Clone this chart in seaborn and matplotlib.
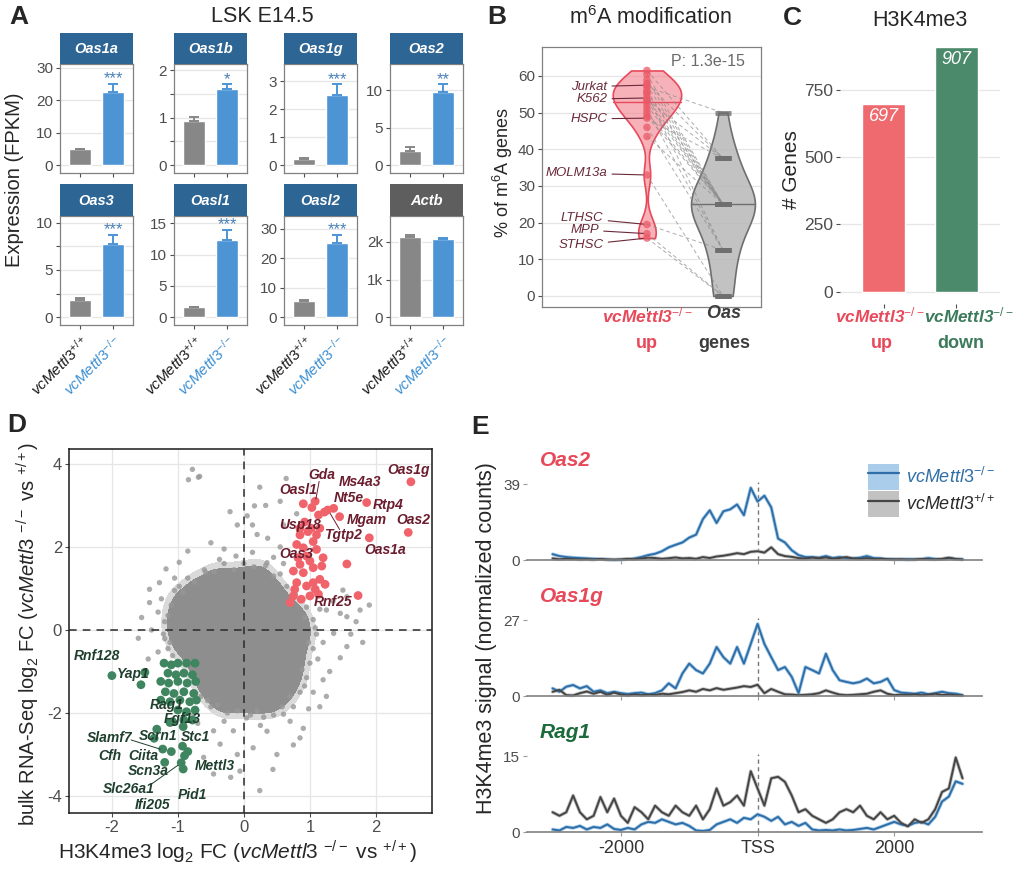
import numpy as np
import pandas as pd
import matplotlib
matplotlib.use("Agg")
import matplotlib.pyplot as plt
from matplotlib.patches import Patch
from matplotlib.lines import Line2D
import seaborn as sns

sns.set_theme(style="white")
plt.rcParams["font.family"] = ["Liberation Sans", "DejaVu Sans"]
plt.rcParams["mathtext.fontset"] = "custom"
plt.rcParams["mathtext.rm"] = "Liberation Sans"
plt.rcParams["mathtext.it"] = "Liberation Sans:italic"
plt.rcParams["mathtext.bf"] = "Liberation Sans:bold"
plt.rcParams["mathtext.bfit"] = "Liberation Sans:italic:bold"
plt.rcParams["axes.unicode_minus"] = False

# ---------------- data ----------------
# panel A: expression (FPKM), wild type vs knockout
a_genes = ["Oas1a", "Oas1b", "Oas1g", "Oas2", "Oas3", "Oasl1", "Oasl2", "Actb"]
a_geno = ["wt", "ko"]
a_wt = [4.8, 0.93, 0.21, 1.9, 1.8, 1.6, 5.4, 2125]
a_wt_err = [0.2, 0.09, 0.04, 0.55, 0.25, 0.05, 0.4, 60]
a_ko = [22.4, 1.61, 2.52, 9.8, 7.8, 12.4, 25.2, 2080]
a_ko_err = [2.6, 0.09, 0.37, 1.0, 0.95, 1.6, 2.8, 20]
a_stars = ["***", "*", "***", "**", "***", "***", "***", ""]
a_ymax = [31.2, 2.13, 3.61, 13.5, 10.74, 16.2, 34.4, 2693]
a_ticks = [[0, 10, 20, 30], [0, 1, 2], [0, 1, 2, 3], [0, 5, 10],
           [0, 5, 10], [0, 5, 10, 15], [0, 10, 20, 30], [0, 1000, 2000]]
a_minor = [[], [0.5, 1.5], [], [], [2.5, 7.5], [], [], []]

# panel B: % of m6A genes per dataset (paired)
b_up = [61.5, 60.5, 59, 58, 57.5, 57, 56, 55.5, 55, 54, 53.5, 53, 52, 51,
        50, 49, 48.5, 46, 43.5, 33, 19.5, 17, 15.8]
b_oas = [37.5, 25, 25, 37.5, 25, 50, 25, 25, 12.5, 25, 37.5, 25, 25, 12.5,
         25, 25, 37.5, 12.5, 25, 0, 12.5, 0, 0]
b_cells = ["Jurkat", "K562", "HSPC", "MOLM13a", "LTHSC", "MPP", "STHSC"]
b_cell_pct = [57.5, 54, 48.5, 33, 19.5, 17, 15.8]
b_pval = "P: 1.3e-15"

# panel C: number of genes
c_groups = ["up", "down"]
c_counts = [697, 907]

# panel D: log2 fold changes (bulk RNA-Seq vs H3K4me3)
d_gray_core = [
    (-0.36, 1.22), (-0.04, 1.24), (0.24, 1.33),
    (-0.66, 1.00), (-0.41, 1.08), (-0.09, 1.03), (0.19, 1.08), (0.40, 1.00),
    (-0.88, 0.72), (-0.64, 0.80), (-0.34, 0.78), (-0.06, 0.82), (0.26, 0.77), (0.50, 0.72),
    (-0.96, 0.46), (-0.74, 0.50), (-0.44, 0.47), (-0.16, 0.53), (0.14, 0.49), (0.46, 0.51), (0.70, 0.45),
    (-0.98, 0.18), (-0.77, 0.22), (-0.51, 0.18), (-0.19, 0.21), (0.11, 0.17), (0.41, 0.22), (0.66, 0.18), (0.82, 0.20),
    (-0.98, -0.10), (-0.78, -0.08), (-0.48, -0.12), (-0.21, -0.09), (0.12, -0.11), (0.39, -0.08), (0.68, -0.12), (0.83, -0.08),
    (-0.90, -0.40), (-0.69, -0.38), (-0.39, -0.42), (-0.11, -0.39), (0.21, -0.41), (0.49, -0.38), (0.76, -0.40),
    (-0.70, -0.70), (-0.46, -0.68), (-0.14, -0.72), (0.16, -0.69), (0.44, -0.71), (0.73, -0.66),
    (-0.62, -1.00), (-0.41, -0.98), (-0.09, -1.02), (0.21, -0.99), (0.49, -1.01), (0.72, -0.94),
    (-0.55, -1.30), (-0.34, -1.28), (-0.06, -1.32), (0.26, -1.29), (0.52, -1.27), (0.66, -1.18),
    (-0.42, -1.55), (-0.21, -1.60), (0.11, -1.58), (0.39, -1.58), (0.55, -1.50),
    (-0.27, -1.72), (0.06, -1.74), (0.34, -1.72),
]
d_gray_out = [
    (-0.78, 3.87), (-0.84, 3.62), (-0.69, 3.68), (-0.67, 3.70), (0.24, 3.44), (0.64, 3.65),
    (0.13, 2.53), (-0.21, 2.85), (-0.10, 2.53), (0.16, 2.99), (0.33, 3.00), (0.60, 2.53),
    (0.36, 2.21), (0.55, 2.00), (-0.85, 1.90), (-0.98, 1.63), (-1.18, 1.47), (-1.43, 0.98),
    (-1.43, 0.66), (-1.28, 1.14), (-1.05, 1.25), (-0.58, 1.39), (-0.37, 1.70), (-0.12, 1.78),
    (0.13, 1.87), (0.33, 1.55), (-1.30, 0.43), (-1.40, 0.00), (-1.30, -0.53), (-1.20, -0.21),
    (1.56, -0.40), (1.36, -0.08), (1.46, 0.40), (1.25, 0.48), (1.56, 0.32), (1.46, -0.67),
    (1.30, -1.00), (1.15, -1.85), (0.90, -2.37), (0.75, -2.77), (0.35, -2.44), (0.14, -2.84),
    (0.44, -3.36), (0.24, -3.87), (-0.06, -3.40), (-0.20, -3.55), (-0.46, -3.47), (-0.61, -3.07),
    (-0.36, -2.75), (-0.16, -2.43), (0.04, -2.12), (0.60, -2.03), (1.56, 0.80), (1.76, 0.48),
    (1.50, 0.96), (-0.46, -2.43), (-0.76, -2.03), (1.05, -1.50), (1.20, -1.20), (0.98, -1.90),
    (-0.30, -2.20), (0.70, -2.20), (1.35, 0.70), (0.20, 2.30), (-0.50, 2.10), (-0.30, 1.95),
    (0.45, 1.75), (1.70, 0.20), (1.90, 0.60), (1.62, -0.10), (-1.55, 0.30), (-1.60, -0.20),
    (-1.45, -0.70), (0.50, -3.00), (-0.10, -3.00), (0.30, -2.10), (0.85, -2.60), (1.25, -1.60),
    (1.80, -0.30), (0.80, 2.80), (0.55, 3.10), (0.05, 2.75),
    (-1.25, 0.75), (-1.20, 0.20), (-1.22, -0.10), (-1.15, -0.45), (-1.05, 0.95), (-0.85, 1.25),
    (-0.60, 1.45), (-0.30, 1.60), (0.00, 1.60), (0.35, 1.62), (0.55, 1.35), (0.65, 1.05),
    (0.95, 0.55), (1.05, 0.25), (1.10, -0.10), (1.05, -0.45), (1.00, -0.80), (0.95, -1.15),
    (0.85, -1.50), (0.75, -1.85), (0.45, -2.05), (0.10, -2.05), (-0.25, -2.00), (-0.50, -1.85),
    (-0.65, -1.60), (1.15, 0.50), (1.20, -0.30), (-0.70, -2.25), (0.25, -2.30), (0.60, 1.60),
    (-1.10, 0.60), (-1.12, -0.30), (-0.98, 1.05), (0.92, 0.30), (0.98, -0.30), (0.88, -0.95),
    (0.70, -1.60), (0.20, -1.95), (-0.40, -1.80), (0.45, 1.30), (-0.15, 1.45), (-0.75, 1.15),
    (-1.15, 0.35), (-1.08, -0.62), (-0.92, 0.90), (0.78, 0.85), (1.08, 0.05), (1.12, -0.70),
    (0.92, -1.35), (0.58, -1.85), (-0.10, -1.95), (-0.55, -1.70), (-0.45, 1.40), (0.15, 1.52),
]
d_red = [
    (2.53, 3.57), (2.49, 2.35), (1.90, 2.22), (1.86, 3.07), (1.45, 2.73), (1.36, 2.93),
    (1.27, 2.89), (1.22, 2.84), (1.08, 3.10), (0.90, 3.04), (1.03, 2.95), (1.56, 1.59),
    (1.73, 0.83), (1.23, 1.10), (0.92, 2.60), (1.02, 2.45), (1.10, 2.29), (0.85, 2.29),
    (0.80, 2.06), (0.90, 1.98), (1.10, 1.94), (1.20, 1.74), (1.00, 1.66), (0.85, 1.58),
    (0.75, 1.42), (0.90, 1.38), (1.05, 1.50), (1.18, 1.54), (0.80, 1.14), (0.95, 1.06),
    (1.08, 0.98), (0.75, 0.82), (0.87, 0.74), (1.00, 0.82), (1.13, 0.86), (0.77, 0.98),
    (1.05, 1.14), (1.15, 1.22), (0.70, 0.66), (0.82, 1.74), (0.95, 1.78), (1.05, 2.13),
    (0.97, 2.37), (0.85, 2.45), (1.15, 2.45), (1.13, 2.77),
]
d_green = [
    (-2.00, -1.10), (-1.50, -1.02), (-1.56, -1.32),
    (-1.21, -0.80), (-1.10, -0.84), (-1.00, -0.80), (-0.87, -0.80), (-0.74, -0.80),
    (-1.15, -1.04), (-1.03, -1.08), (-0.91, -1.04), (-0.78, -1.08),
    (-1.26, -1.24), (-1.14, -1.28), (-1.00, -1.24), (-0.86, -1.28), (-0.73, -1.24),
    (-1.19, -1.49), (-1.06, -1.53), (-0.91, -1.49), (-0.76, -1.53),
    (-1.26, -1.69), (-1.12, -1.73), (-0.97, -1.69), (-0.82, -1.73), (-0.72, -1.69),
    (-1.00, -1.93), (-0.87, -1.97), (-0.74, -1.93), (-0.91, -2.17), (-0.78, -2.17),
    (-1.08, -2.21), (-0.92, -2.33), (-1.32, -2.39), (-1.36, -2.61), (-1.23, -2.87),
    (-1.10, -2.93), (-1.20, -3.19), (-0.95, -3.20), (-0.92, -3.35), (-0.85, -2.93),
    (-0.90, -3.03), (-0.93, -2.80), (-1.12, -2.23),
]
d_up_genes = ["Oas1g", "Gda", "Ms4a3", "Oasl1", "Nt5e", "Rtp4", "Mgam", "Oas2",
              "Usp18", "Tgtp2", "Oas1a", "Oas3", "Rnf25"]
d_down_genes = ["Rnf128", "Yap1", "Rag1", "Fgf13", "Slamf7", "Scrn1", "Stc1", "Cfh",
                "Ciita", "Mettl3", "Scn3a", "Slc26a1", "Pid1", "Ifi205"]

# panel E: H3K4me3 signal around TSS (100 bp bins)
e_pos = np.arange(-3000, 3001, 100)
e_genes = ["Oas2", "Oas1g", "Rag1"]
e_ymax = [39, 27, 15]
e_oas2_ko = [3.0, 2.0, 1.5, 1.2, 1.0, 0.8, 0.6, 0.5, 0.2, 0.1, 0.2, 0.4, 0.8, 1.5, 2.5, 3.2,
             4.5, 6.5, 7.8, 9.0, 11.5, 13.0, 21.0, 25.5, 19.0, 25.0, 26.0, 28.5, 23.0, 37.0,
             30.0, 33.0, 27.0, 11.0, 9.0, 5.0, 2.5, 1.5, 1.5, 1.2, 2.0, 1.0, 1.5, 1.0, 0.8,
             1.2, 2.0, 1.0, 0.8, 0.5, 0.4, 0.3, 0.4, 0.3, 0.5, 1.0, 0.5, 0.4, 1.0, 0.6, 0.3]
e_oas2_wt = [0.8, 0.4, 0.6, 0.5, 0.3, 0.4, 0.2, 0.5, 0.3, 0.2, 0.3, 0.6, 0.4, 0.8, 1.2, 1.0,
             0.6, 0.9, 1.3, 0.8, 1.0, 0.6, 1.5, 1.0, 1.8, 2.2, 2.8, 3.5, 3.0, 4.2, 4.5, 3.8,
             6.5, 3.0, 2.0, 1.6, 1.0, 0.8, 1.2, 0.9, 1.3, 0.7, 1.0, 1.5, 0.8, 0.6, 1.0, 0.5,
             0.7, 0.4, 0.3, 0.4, 0.2, 0.3, 0.5, 0.4, 0.3, 0.6, 1.2, 0.5, 0.3]
e_oas1g_ko = [2.7, 1.5, 3.3, 3.9, 2.7, 3.5, 1.5, 2.0, 1.0, 1.5, 1.0, 0.7, 1.0, 1.2, 0.6, 1.0,
              2.0, 4.5, 2.7, 8.0, 11.5, 9.2, 8.0, 11.5, 17.4, 13.8, 11.5, 17.4, 11.5, 18.5,
              25.6, 18.5, 13.8, 9.2, 10.3, 6.8, 1.0, 10.3, 9.2, 8.0, 15.0, 9.2, 5.6, 5.0, 4.5,
              5.0, 6.2, 4.5, 5.0, 6.2, 2.1, 1.2, 1.0, 0.8, 1.2, 0.6, 1.0, 1.5, 1.0, 0.8, 0.3]
e_oas1g_wt = [1.5, 2.2, 0.3, 0.2, 1.0, 1.6, 0.8, 1.5, 0.4, 1.2, 0.5, 0.2, 0.6, 0.3, 0.5, 0.4,
              0.8, 0.6, 1.0, 1.4, 2.0, 1.5, 2.5, 2.0, 2.8, 2.2, 2.6, 3.0, 3.5, 3.2, 4.0, 1.0,
              2.5, 1.5, 0.6, 0.5, 0.3, 0.4, 0.6, 1.0, 2.0, 1.2, 0.5, 0.3, 0.4, 0.6, 0.8, 1.5,
              2.0, 0.8, 0.3, 0.5, 0.4, 0.6, 0.3, 0.5, 0.8, 0.4, 0.5, 0.3, 0.2]
e_rag1_ko = [0.5, 0.3, 1.0, 0.8, 1.2, 0.5, 1.0, 0.8, 1.5, 0.6, 0.4, 0.8, 0.5, 1.5, 2.0, 1.8,
             2.5, 2.0, 1.5, 1.8, 1.2, 0.3, 0.2, 0.4, 1.5, 2.0, 2.5, 1.8, 2.8, 2.5, 3.5, 3.0,
             2.2, 3.0, 1.5, 2.0, 1.2, 1.8, 0.5, 0.3, 0.4, 0.3, 0.5, 0.3, 0.4, 0.6, 0.8, 0.5,
             1.0, 1.5, 2.0, 1.5, 1.2, 1.8, 2.0, 1.5, 3.0, 6.0, 7.0, 10.0, 9.5]
e_rag1_wt = [3.9, 3.2, 3.9, 7.2, 3.9, 2.5, 3.2, 6.9, 3.9, 6.6, 3.2, 1.8, 4.9, 3.9, 2.5, 5.2,
             3.9, 3.2, 5.2, 3.9, 3.2, 5.2, 2.5, 4.5, 8.6, 5.2, 5.9, 7.2, 5.2, 12.0, 8.6, 5.2,
             10.6, 10.9, 9.9, 7.2, 3.9, 4.5, 3.2, 2.5, 1.8, 2.5, 3.9, 4.5, 3.9, 5.2, 3.2, 2.5,
             3.9, 2.5, 3.2, 1.8, 1.1, 2.5, 1.8, 2.5, 4.5, 7.9, 8.6, 14.7, 10.6]
e_ko = [e_oas2_ko, e_oas1g_ko, e_rag1_ko]
e_wt = [e_oas2_wt, e_oas1g_wt, e_rag1_wt]

# ---------------- colours ----------------
STRIP_BLUE = "#2d6595"
STRIP_GRAY = "#5e5e5e"
BAR_GRAY = "#878787"
BAR_BLUE = "#4d94d5"
STAR_BLUE = "#4a80b8"
LAB_BLUE = "#3d8fd1"
RED = "#e8495a"
GREEN = "#3b7a5a"
TXT_GRAY = "#4d4d4d"
GRID = "#e6e6e6"
CLOUD = "#8e8e8e"

W, H = 1020, 873
fig = plt.figure(figsize=(W / 100, H / 100), dpi=100)


def px_axes(x0, y0, x1, y1):
    return fig.add_axes([x0 / W, 1 - y1 / H, (x1 - x0) / W, (y1 - y0) / H])


def fig_text(x, y, s, **kw):
    return fig.text(x / W, 1 - y / H, s, **kw)


WT_LAB = r"$\mathit{vcMettl3}^{+/+}$"
KO_LAB = r"$\mathit{vcMettl3}^{-/-}$"
KO_BOLD = r"$\mathbfit{vcMettl3}^{-/-}$"

# ---------------- panel A ----------------
col_x = [60, 174, 284, 390]
rows = [(33, 64, 173), (184, 216, 325)]
for i, g in enumerate(a_genes):
    r, c = divmod(i, 4)
    hy, py0, py1 = rows[r]
    x0 = col_x[c]
    ax = px_axes(x0, py0, x0 + 73, py1)
    hx = px_axes(x0, hy, x0 + 73, py0)
    hx.set_facecolor(STRIP_GRAY if g == "Actb" else STRIP_BLUE)
    hx.set_xticks([])
    hx.set_yticks([])
    for s in hx.spines.values():
        s.set_visible(False)
    hx.text(0.5, 0.47, g, transform=hx.transAxes, ha="center", va="center",
            color="white", fontsize=10.5, fontweight="bold", style="italic")

    df = pd.DataFrame({"geno": a_geno, "fpkm": [a_wt[i], a_ko[i]]})
    sns.barplot(data=df, x="geno", y="fpkm", hue="geno", palette=[BAR_GRAY, BAR_BLUE],
                width=0.67, saturation=1, legend=False, errorbar=None, ax=ax)
    for j, (m, e, col) in enumerate([(a_wt[i], a_wt_err[i], BAR_GRAY),
                                     (a_ko[i], a_ko_err[i], BAR_BLUE)]):
        ax.errorbar(j, m, yerr=[[0], [e]], fmt="none", ecolor=col, elinewidth=1.4,
                    capsize=3.5, capthick=1.4, zorder=3)
    top = a_ymax[i]
    bot = -0.079 * top
    ax.set_ylim(bot, top)
    ax.set_xlim(-0.6, 1.6)
    ppu = 109 / (top - bot)
    if a_stars[i]:
        ax.text(1, a_ko[i] + a_ko_err[i] + 5 / ppu, a_stars[i], ha="center", va="center",
                color=STAR_BLUE, fontsize=12)
    ax.set_yticks(a_ticks[i])
    ax.set_yticks(a_minor[i], minor=True)
    if g == "Actb":
        ax.set_yticklabels(["0", "1k", "2k"])
    ax.grid(axis="y", which="both", color=GRID, lw=0.9)
    ax.set_axisbelow(True)
    for s in ax.spines.values():
        s.set_color("#808080")
        s.set_linewidth(0.9)
    ax.tick_params(axis="both", which="both", length=3, width=0.8, color=TXT_GRAY,
                   labelsize=11, labelcolor=TXT_GRAY, pad=2, bottom=True, left=True)
    ax.set_xticks([0, 1])
    if r == 1:
        ax.set_xticklabels([WT_LAB, KO_LAB], rotation=45, ha="right",
                           rotation_mode="anchor", fontsize=11)
        ax.get_xticklabels()[0].set_color("#1a1a1a")
        ax.get_xticklabels()[1].set_color(LAB_BLUE)
    else:
        ax.set_xticklabels([])
    ax.set_xlabel("")
    ax.set_ylabel("")

fig_text(15, 180, "Expression (FPKM)", rotation=90, ha="center", va="center", fontsize=14.5)
fig_text(262, 17, "LSK E14.5", ha="center", va="center", fontsize=15.5)

# ---------------- panel B ----------------
axb = px_axes(542, 47, 761, 307)
n = len(b_up)
sns.violinplot(x=["up"] * n, y=b_up, order=["up", "oas"], color=RED, cut=0, inner=None,
               density_norm="width", width=0.9, bw_adjust=0.45, linewidth=1.2, ax=axb)
sns.violinplot(x=["oas"] * n, y=b_oas, order=["up", "oas"], color="#9a9a9a", cut=0,
               inner=None, density_norm="width", width=0.84, bw_adjust=1.0,
               linewidth=1.2, ax=axb)
vcols = [((0.95, 0.45, 0.50, 0.55), RED), ((0.72, 0.72, 0.72, 0.85), "#6e6e6e")]
for coll, (fc, ec) in zip(axb.collections[:2], vcols):
    coll.set_facecolor(fc)
    coll.set_edgecolor(ec)
    coll.set_linewidth(1.2)
# median line across each violin
for k, (coll, vals) in enumerate(zip(axb.collections[:2], [b_up, b_oas])):
    v = np.median(vals)
    verts = coll.get_paths()[0].vertices
    near = verts[np.abs(verts[:, 1] - v) < 1.0]
    if len(near):
        axb.plot([near[:, 0].min(), near[:, 0].max()], [v, v], color=vcols[k][1], lw=1.0)
for u, o in zip(b_up, b_oas):
    axb.plot([0, 1], [u, o], ls=(0, (4, 3)), color="#8a8a8a", lw=0.7, alpha=0.7, zorder=2)
sns.scatterplot(x=[0] * n, y=b_up, color="#ec5a68", s=30, alpha=0.75, edgecolor="none",
                ax=axb, zorder=4)
axb.scatter([1] * n, b_oas, marker="_", s=120, linewidths=3.5, c="#6f6f6f", alpha=0.8,
            zorder=4)
b_text_y = [57.1, 53.7, 48.3, 33.5, 21.2, 18.0, 13.9]
b_text_x = [-0.52, -0.52, -0.52, -0.52, -0.57, -0.63, -0.57]
for name, pv, tx, ty in zip(b_cells, b_cell_pct, b_text_x, b_text_y):
    axb.annotate(name, xy=(0, pv), xytext=(tx, ty), ha="right", va="center",
                 fontsize=9.5, style="italic", color="#6b2a3a",
                 arrowprops=dict(arrowstyle="-", color="#6b2a3a", lw=0.8,
                                 shrinkA=1, shrinkB=2))
axb.text(1.29, 63.9, b_pval, ha="right", va="center", fontsize=11.5, color="#6a6a6a")
axb.set_xlim(-1.38, 1.5)
axb.set_ylim(-3, 67.9)
axb.set_yticks([0, 10, 20, 30, 40, 50, 60])
axb.grid(axis="y", color=GRID, lw=0.9)
axb.set_axisbelow(True)
axb.set_xticks([0, 1])
axb.set_xticklabels([])
axb.set_xlabel("")
axb.set_ylabel("")
for s in axb.spines.values():
    s.set_color("#808080")
    s.set_linewidth(0.9)
axb.tick_params(axis="both", length=3, width=0.8, color=TXT_GRAY, labelsize=11,
                labelcolor=TXT_GRAY, pad=2, bottom=True, left=True)
fig_text(503, 172, "% of m$^6$A genes", rotation=90, ha="center", va="center", fontsize=13)
fig_text(650, 18, "m$^6$A modification", ha="center", va="center", fontsize=15.5)
fig_text(647, 315, KO_BOLD, ha="center", va="center", fontsize=12.5, color=RED)
fig_text(647, 344, "up", ha="center", va="center", fontsize=13, fontweight="bold", color=RED)
fig_text(724, 313, r"$\mathbfit{Oas}$", ha="center", va="center", fontsize=13,
         color="#3d3d3d")
fig_text(724, 344, "genes", ha="center", va="center", fontsize=13, fontweight="bold",
         color="#3d3d3d")

# ---------------- panel C ----------------
axc = px_axes(840, 35, 1000, 304)
sns.barplot(x=c_groups, y=c_counts, hue=c_groups, palette=["#ef6a6e", "#4b8a6b"],
            width=0.6, saturation=1, legend=False, errorbar=None, ax=axc)
axc.set_ylim(-45, 952)
axc.set_xlim(-0.6, 1.6)
for j, v in enumerate(c_counts):
    axc.text(j, v - 47, str(v), ha="center", va="center", color="white",
             fontsize=13, style="italic")
axc.set_yticks([0, 250, 500, 750])
axc.grid(axis="y", color=GRID, lw=0.9)
axc.set_axisbelow(True)
axc.set_xticks([0, 1])
axc.set_xticklabels([])
axc.set_xlabel("")
axc.set_ylabel("")
for s in axc.spines.values():
    s.set_visible(False)
axc.tick_params(axis="both", length=3, width=0.8, color=TXT_GRAY, labelsize=12.5,
                labelcolor=TXT_GRAY, pad=2, bottom=True, left=True)
fig_text(792, 170, "# Genes", rotation=90, ha="center", va="center", fontsize=15)
fig_text(920, 20, "H3K4me3", ha="center", va="center", fontsize=15.5)
fig_text(880, 315, KO_BOLD, ha="center", va="center", fontsize=12.3, color=RED)
fig_text(882, 344, "up", ha="center", va="center", fontsize=13, fontweight="bold",
         color=RED)
fig_text(969, 315, KO_BOLD, ha="center", va="center", fontsize=12.3, color=GREEN)
fig_text(961, 344, "down", ha="center", va="center", fontsize=13, fontweight="bold",
         color=GREEN)

# ---------------- panel D ----------------
axd = px_axes(69, 449, 432, 813)
core = np.array(d_gray_core)
out = np.array(d_gray_out)
red = np.array(d_red)
green = np.array(d_green)
# dense centre of the cloud as a filled density region (faint fringe + solid core)
sns.kdeplot(x=core[:, 0], y=core[:, 1], fill=True, levels=[0.025, 0.07, 1], bw_adjust=0.6,
            color=CLOUD, colors=["#dadada", CLOUD], ax=axd, zorder=1)
sns.scatterplot(x=core[:, 0], y=core[:, 1], color=CLOUD, s=14, edgecolor="none",
                ax=axd, zorder=2)
sns.scatterplot(x=out[:, 0], y=out[:, 1], color="#979797", s=15, edgecolor="none",
                alpha=0.8, ax=axd, zorder=2)
sns.scatterplot(x=red[:, 0], y=red[:, 1], color="#f0636b", s=40, edgecolor="none",
                ax=axd, zorder=3)
sns.scatterplot(x=green[:, 0], y=green[:, 1], color="#3f8560", s=40, edgecolor="none",
                ax=axd, zorder=3)
axd.axvline(0, color="#2a2a2a", lw=1.1, ls=(0, (5, 4)), zorder=4)
axd.axhline(0, color="#2a2a2a", lw=1.1, ls=(0, (5, 4)), zorder=4)
d_up_xy = [(2.49, 3.86), (1.18, 3.73), (1.76, 3.57), (0.82, 3.37), (1.59, 3.17),
           (2.19, 3.01), (1.86, 2.65), (2.57, 2.65), (0.85, 2.53), (1.50, 2.29),
           (2.14, 1.93), (0.80, 1.83), (1.35, 0.68)]
d_down_xy = [(-2.23, -0.63), (-1.68, -1.06), (-1.17, -1.81), (-0.94, -2.15),
             (-2.04, -2.61), (-1.30, -2.55), (-0.74, -2.58), (-2.03, -3.04),
             (-1.53, -3.04), (-0.44, -3.28), (-1.45, -3.39), (-1.75, -3.84),
             (-0.78, -3.98), (-1.38, -4.22)]
for name, (tx, ty) in zip(d_up_genes, d_up_xy):
    axd.text(tx, ty, name, ha="center", va="center", fontsize=10, fontweight="bold",
             style="italic", color="#6b1d2e", zorder=5)
for name, (tx, ty) in zip(d_down_genes, d_down_xy):
    axd.text(tx, ty, name, ha="center", va="center", fontsize=10, fontweight="bold",
             style="italic", color="#1f3f2e", zorder=5)
for (x1, y1, x2, y2, col) in [(1.14, 3.58, 1.09, 3.15, "#6b1d2e"),
                              (1.45, 2.42, 1.31, 2.80, "#6b1d2e"),
                              (-1.71, -2.65, -1.27, -2.87, "#1f3f2e"),
                              (-1.39, -3.70, -1.00, -3.26, "#1f3f2e")]:
    axd.plot([x1, x2], [y1, y2], color=col, lw=0.7, zorder=5)
axd.set_xlim(-2.65, 2.85)
axd.set_ylim(-4.41, 4.36)
axd.set_xticks([-2, -1, 0, 1, 2])
axd.set_yticks([-4, -2, 0, 2, 4])
axd.grid(color=GRID, lw=0.9)
axd.set_axisbelow(True)
axd.set_xlabel("")
axd.set_ylabel("")
for s in axd.spines.values():
    s.set_color("#1a1a1a")
    s.set_linewidth(1.1)
axd.tick_params(axis="both", length=3, width=0.8, color=TXT_GRAY, labelsize=12,
                labelcolor=TXT_GRAY, pad=2, bottom=True, left=True)
fig_text(237, 852, r"H3K4me3 log$_2$ FC ($\mathit{vcMettl3}$ $^{-/-}$ vs $^{+/+}$)",
         ha="center", va="center", fontsize=15)
fig_text(28, 634, r"bulk RNA-Seq log$_2$ FC ($\mathit{vcMettl3}$ $^{-/-}$ vs $^{+/+}$)",
         rotation=90, ha="center", va="center", fontsize=14.5)

# ---------------- panel E ----------------
bases = [560, 696, 832]
e_title_cols = [RED, RED, "#1b6b3a"]
KO_COL, KO_RIB = "#2f6ea6", "#a9cdeb"
WT_COL, WT_RIB = "#454545", "#c2c2c2"
for k, g in enumerate(e_genes):
    base = bases[k]
    ym = e_ymax[k]
    ax = px_axes(527, base - 82, 982, base + 2)
    ax.set_xlim(-3375, 3285)
    ax.set_ylim(-ym * 2 / 76, ym * 82 / 76)
    ax.plot([0, 0], [0, ym * 1.03], color="#777777", lw=1.0, ls=(0, (3, 2.5)), zorder=1)
    sns.lineplot(x=e_pos, y=e_ko[k], color=KO_RIB, lw=2.6, ax=ax)
    sns.lineplot(x=e_pos, y=e_wt[k], color=WT_RIB, lw=2.6, ax=ax)
    sns.lineplot(x=e_pos, y=e_ko[k], color=KO_COL, lw=1.4, ax=ax)
    sns.lineplot(x=e_pos, y=e_wt[k], color=WT_COL, lw=1.4, ax=ax)
    for sname in ["top", "right", "left"]:
        ax.spines[sname].set_visible(False)
    ax.spines["bottom"].set_position(("data", 0))
    ax.spines["bottom"].set_color("#808080")
    ax.spines["bottom"].set_linewidth(1.2)
    ax.set_yticks([0, ym])
    ax.set_xticks([-2000, 0, 2000])
    if k == 2:
        ax.set_xticklabels(["-2000", "TSS", "2000"])
    else:
        ax.set_xticklabels([])
    ax.tick_params(axis="x", length=3, width=0.8, color="#999999", labelsize=13,
                   labelcolor="#333333", pad=3, bottom=True)
    ax.tick_params(axis="y", length=3, width=0.8, color="#999999", labelsize=11,
                   labelcolor=TXT_GRAY, pad=2, left=True)
    ax.set_xlabel("")
    ax.set_ylabel("")
    ax.patch.set_alpha(0)
    fig_text(540, base - 100, g, ha="left", va="center", fontsize=15, fontweight="bold",
             style="italic", color=e_title_cols[k])

handles = [(Patch(facecolor=KO_RIB, edgecolor="none"), Line2D([], [], color=KO_COL, lw=1.6)),
           (Patch(facecolor=WT_RIB, edgecolor="none"), Line2D([], [], color=WT_COL, lw=1.6))]
leg = fig.legend(handles, [KO_LAB, WT_LAB], loc="upper left",
                 bbox_to_anchor=(868 / W, 1 - 464 / H), frameon=False, fontsize=13,
                 handlelength=1.7, handleheight=1.8, labelspacing=0.1,
                 handletextpad=0.4, borderpad=0, borderaxespad=0)
leg.get_texts()[0].set_color(KO_COL)
leg.get_texts()[1].set_color("#2a2a2a")
fig_text(487, 638, "H3K4me3 signal (normalized counts)", rotation=90, ha="center",
         va="center", fontsize=15.5)

# ---------------- panel letters ----------------
for letter, (lx, ly) in zip("ABCDE", [(19, 17), (497, 17), (792, 18), (17, 425), (480, 427)]):
    fig_text(lx, ly, letter, ha="center", va="center", fontsize=19, fontweight="bold")

fig.savefig("out.png", dpi=100)
